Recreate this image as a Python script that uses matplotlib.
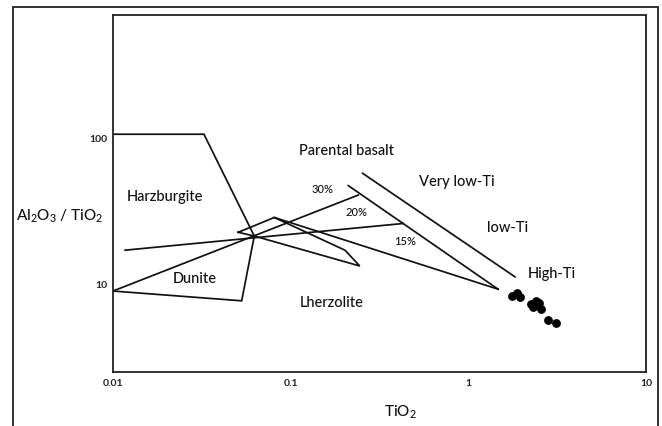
import matplotlib
matplotlib.use('Agg')
import matplotlib.pyplot as plt
from matplotlib.patches import Rectangle

plt.rcParams['font.family'] = ['Lato', 'DejaVu Sans']
plt.rcParams['mathtext.default'] = 'regular'

# field boundaries (TiO2, Al2O3/TiO2)
harz_x = [0.01, 0.0325, 0.0624, 0.053, 0.01]
harz_y = [107, 107, 21.5, 7.74, 9.03]
dunite_top_x = [0.01, 0.240]
dunite_top_y = [9.03, 41.0]
melt_x = [0.211, 1.47]
melt_y = [47.6, 9.3]
horiz_x = [0.0117, 0.430]
horiz_y = [17.2, 26.2]
lower_x = [0.0809, 1.47]
lower_y = [28.8, 9.3]
par_x = [0.254, 1.83]
par_y = [57.8, 11.3]
small_x = [0.0507, 0.0809, 0.202, 0.245, 0.0624, 0.0507]
small_y = [22.8, 28.8, 17.2, 13.4, 21.5, 22.8]

# samples
tio2 = [1.76, 1.88, 1.96, 2.25, 2.39, 2.51, 2.31, 2.56, 2.79, 3.13]
al_ti = [8.34, 8.79, 8.25, 7.35, 7.74, 7.47, 7.01, 6.76, 5.71, 5.45]

labels = ['Harzburgite', 'Dunite', 'Lherzolite', 'Parental basalt',
          'Very low-Ti', 'low-Ti', 'High-Ti']
label_x = [0.0195, 0.0289, 0.170, 0.206, 0.866, 1.67, 2.95]
label_y = [39.9, 10.9, 7.43, 82.5, 50.6, 24.3, 11.9]
pct = ['30%', '20%', '15%']
pct_x = [0.151, 0.236, 0.443]
pct_y = [45.1, 31.2, 19.6]

xticks = [0.01, 0.1, 1, 10]
xticklabels = ['0.01', '0.1', '1', '10']
yticks = [10, 100]
yticklabels = ['10', '100']

fig = plt.figure(figsize=(6.62, 4.26), dpi=100)
ax = fig.add_axes([113/662, 1-372/426, 533/662, 357/426])
ax.set_xscale('log')
ax.set_yscale('log')
ax.set_xlim(0.01, 10)
ax.set_ylim(2.52, 701)

lw = 1.25
c = '#111111'
for xs, ys in [(harz_x, harz_y), (dunite_top_x, dunite_top_y), (melt_x, melt_y),
               (horiz_x, horiz_y), (lower_x, lower_y), (par_x, par_y),
               (small_x, small_y)]:
    ax.plot(xs, ys, color=c, lw=lw, solid_joinstyle='miter')

ax.plot(tio2, al_ti, 'o', color='black', ms=5.3, mec='black')

for t, x, y in zip(labels, label_x, label_y):
    ax.text(x, y, t, ha='center', va='center', fontsize=10.5, color=c,
            fontweight='medium')
for t, x, y in zip(pct, pct_x, pct_y):
    ax.text(x, y, t, ha='center', va='center', fontsize=8, color=c,
            fontweight='medium')

ax.xaxis.set_major_locator(plt.FixedLocator(xticks))
ax.yaxis.set_major_locator(plt.FixedLocator(yticks))
ax.xaxis.set_minor_locator(plt.NullLocator())
ax.yaxis.set_minor_locator(plt.NullLocator())
ax.set_xticklabels(xticklabels, fontweight='bold')
ax.set_yticklabels(yticklabels, fontweight='bold')
ax.tick_params(length=0, labelsize=7.5, colors='#222222')
ax.tick_params(axis='x', pad=5)
ax.tick_params(axis='y', pad=4)
for s in ax.spines.values():
    s.set_linewidth(1.3)
    s.set_color('#222222')

ax.set_xlabel('TiO$_2$', fontsize=11, color=c, fontweight='medium')
ax.xaxis.set_label_coords(0.539, -0.088)
ax.set_ylabel('Al$_2$O$_3$ / TiO$_2$', fontsize=11, color=c, rotation=0,
              ha='center', va='center', fontweight='medium')
ax.yaxis.set_label_coords(-0.101, 0.435)

# outer frame, open at the bottom edge of the picture
fig.patches.append(Rectangle((13/662, -0.2), 645/662, 1.2 - 7/426,
                             transform=fig.transFigure, fill=False,
                             lw=1.3, ec='#222222'))

fig.savefig('out.png', dpi=100)
